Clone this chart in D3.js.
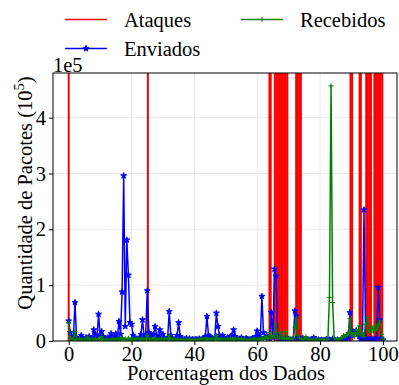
<!DOCTYPE html>
<html><head><meta charset="utf-8">
<script src="https://cdn.jsdelivr.net/npm/d3@7"></script>
</head><body style="margin:0"><svg id="c" width="399" height="385" font-family="Liberation Serif"></svg>
<script>
// ---- data (values in units of 1e5 packets) ----
const xTicks = [0, 20, 40, 60, 80, 100];
const yTicks = [0, 1, 2, 3, 4];
const attacks = [0, 25.2, 63.9, 64.3, 65.6, 66.1, 66.6, 67.1, 67.6, 68.1, 68.6, 69.1, 69.6,
  72.4, 72.9, 73.4, 73.9, 89.7, 90.2, 92.6, 93.0, 94.7, 95.2, 95.7, 96.2,
  97.3, 97.8, 98.3, 98.8, 99.3, 99.8];
const enviados = [
  0.36,0.15,0.05,0.08,0.69,0.06,0.03,0.05,0.10,0.04,0.02,0.06,0.04,0.08,0.03,0.05,0.20,0.12,0.06,0.48,
  0.10,0.17,0.08,0.05,0.03,0.06,0.04,0.13,0.05,0.08,0.13,0.06,0.35,0.12,0.88,2.96,0.26,1.81,1.18,0.33,
  0.30,0.10,0.05,0.04,0.02,0.06,0.12,0.38,0.08,0.10,0.90,0.15,0.08,0.10,0.12,0.26,0.10,0.06,0.20,0.08,
  0.12,0.05,0.03,0.06,0.53,0.10,0.05,0.02,0.04,0.10,0.33,0.08,0.04,0.02,0.03,0.05,0.02,0.04,0.02,0.03,
  0.02,0.03,0.02,0.04,0.02,0.03,0.05,0.08,0.44,0.10,0.08,0.04,0.02,0.06,0.50,0.26,0.10,0.05,0.10,0.04,
  0.03,0.06,0.04,0.08,0.10,0.20,0.08,0.04,0.02,0.04,0.06,0.03,0.02,0.05,0.03,0.02,0.03,0.05,0.02,0.08,
  0.18,0.10,0.06,0.80,0.15,0.06,0.10,0.05,0.08,0.51,0.06,1.29,1.16,0.10,0.04,0.02,0.03,0.02,0.04,0.02,
  0.03,0.02,0.02,0.04,0.54,0.45,0.06,0.03,0.02,0.05,0.02,0.02,0.01,0.02,0.01,0.02,0.06,0.02,0.01,0.02,
  0.01,0.02,0.01,0.01,0.03,0.01,0.02,0.01,0.04,0.01,0.01,0.02,0.01,0.01,0.02,0.01,0.03,0.02,0.05,0.51,
  0.10,0.17,0.15,0.18,0.12,0.08,0.05,0.03,2.35,0.05,0.02,0.03,0.02,0.04,0.02,0.03,0.05,0.96,0.38,0.05,0.02
];
const recebidos = [
  0.33,0.05,0.03,0.02,0.17,0.03,0.02,0.04,0.02,0.01,0.03,0.02,0.07,0.02,0.01,0.03,0.02,0.04,0.02,0.03,
  0.02,0.08,0.02,0.01,0.03,0.02,0.01,0.02,0.04,0.02,0.01,0.03,0.05,0.02,0.06,0.03,0.04,0.02,0.05,0.03,
  0.02,0.04,0.02,0.03,0.05,0.02,0.03,0.04,0.02,0.03,0.10,0.04,0.02,0.03,0.02,0.05,0.02,0.03,0.02,0.04,
  0.02,0.03,0.04,0.02,0.10,0.03,0.02,0.04,0.02,0.03,0.02,0.01,0.02,0.03,0.02,0.01,0.02,0.03,0.02,0.01,
  0.02,0.01,0.02,0.03,0.02,0.04,0.02,0.03,0.05,0.02,0.03,0.02,0.04,0.03,0.10,0.03,0.02,0.04,0.02,0.03,
  0.02,0.03,0.02,0.04,0.02,0.03,0.05,0.02,0.03,0.02,0.04,0.02,0.03,0.02,0.01,0.02,0.03,0.02,0.04,0.02,
  0.03,0.02,0.04,0.05,0.03,0.06,0.08,0.04,0.15,0.05,0.08,0.10,0.30,0.06,0.04,0.15,0.05,0.03,0.17,0.04,
  0.03,0.05,0.03,0.04,0.25,0.41,0.10,0.05,0.03,0.02,0.04,0.08,0.02,0.03,0.02,0.01,0.02,0.03,0.01,0.02,
  0.02,0.01,0.02,0.01,0.02,0.03,0.78,4.57,0.69,0.05,0.02,0.03,0.02,0.04,0.06,0.10,0.08,0.12,0.15,0.40,
  0.10,0.15,0.08,0.20,0.12,0.27,0.10,0.15,0.08,0.30,0.42,0.20,0.15,0.25,0.18,0.27,0.20,0.30,0.36,0.12,0.03
];
const labels = {x: "Porcentagem dos Dados", y: "Quantidade de Pacotes (10", ySup: "5", yEnd: ")", offset: "1e5"};
const legendNames = ["Ataques", "Recebidos", "Enviados"];

// ---- layout ----
const L = 53, R = 397, T = 73, B = 341;
const FS = 20.5;
const FONT = "Liberation Serif";
const svg = d3.select("#c");
const n = enviados.length;
const pct = i => i * 100 / (n - 1);   // position of each sample as percentage of the data
const x = d3.scaleLinear().domain([-5, 104.5]).range([L, R]);
const y = d3.scaleLinear().domain([0, 4.8]).range([B, T]);

svg.append("defs").append("clipPath").attr("id", "clip")
  .append("rect").attr("x", L).attr("y", T).attr("width", R - L).attr("height", B - T);

// grid
const grid = svg.append("g").attr("stroke", "#ebebeb").attr("stroke-width", 1);
xTicks.forEach(t => grid.append("line").attr("x1", x(t)).attr("x2", x(t)).attr("y1", T).attr("y2", B));
yTicks.forEach(t => grid.append("line").attr("x1", L).attr("x2", R).attr("y1", y(t)).attr("y2", y(t)));

const plot = svg.append("g").attr("clip-path", "url(#clip)");
// attacks
plot.selectAll("line.att").data(attacks).join("line")
  .attr("x1", d => x(d)).attr("x2", d => x(d)).attr("y1", T).attr("y2", B)
  .attr("stroke", "#ff0000").attr("stroke-width", 2);

const line = d3.line().x((d, i) => x(pct(i))).y(d => y(d));
const star = d3.symbol().type(d3.symbolStar).size(11);
const plusPath = "M-2.5,0H2.5M0,-2.5V2.5";
// enviados
plot.append("path").datum(enviados).attr("d", line)
  .attr("fill", "none").attr("stroke", "#0000ff").attr("stroke-width", 1.5).attr("stroke-linejoin", "round");
plot.selectAll("path.st").data(enviados).join("path").attr("class", "st")
  .attr("d", star).attr("transform", (d, i) => `translate(${x(pct(i))},${y(d)})`)
  .attr("fill", "#0000ff").attr("stroke", "#0000ff").attr("stroke-width", 1);
// recebidos
plot.append("path").datum(recebidos).attr("d", line)
  .attr("fill", "none").attr("stroke", "#008000").attr("stroke-width", 1.5).attr("stroke-linejoin", "round");
plot.selectAll("path.pl").data(recebidos).join("path").attr("class", "pl")
  .attr("d", plusPath).attr("transform", (d, i) => `translate(${x(pct(i))},${y(d)})`)
  .attr("stroke", "#008000").attr("stroke-width", 1);

// frame
svg.append("rect").attr("x", L).attr("y", T).attr("width", R - L).attr("height", B - T)
  .attr("fill", "none").attr("stroke", "#000").attr("stroke-width", 1);

// axes
const xa = svg.append("g").attr("transform", `translate(0,${B})`)
  .call(d3.axisBottom(x).tickValues(xTicks).tickSize(4).tickPadding(1).tickFormat(d3.format("d")));
const ya = svg.append("g").attr("transform", `translate(${L},0)`)
  .call(d3.axisLeft(y).tickValues(yTicks).tickSize(4).tickPadding(3).tickFormat(d3.format("d")));
[xa, ya].forEach(a => {
  a.attr("font-family", FONT).attr("font-size", FS);
  a.select(".domain").remove();
  a.selectAll("text").attr("font-family", FONT).attr("font-size", FS).attr("fill", "#000");
  a.selectAll("line").attr("stroke", "#000");
});

function txt(sel) { return sel.attr("font-size", FS).attr("font-family", FONT).attr("fill", "#000"); }
txt(svg.append("text").attr("x", L).attr("y", 72)).text(labels.offset);
txt(svg.append("text").attr("x", (L + R) / 2 + 1).attr("y", 380).attr("text-anchor", "middle")).text(labels.x);
const yl = txt(svg.append("text").attr("transform", `translate(32,${(T + B) / 2 - 14}) rotate(-90)`)
  .attr("text-anchor", "middle"));
yl.append("tspan").text(labels.y);
yl.append("tspan").attr("dy", -8).attr("font-size", 14.5).text(labels.ySup);
yl.append("tspan").attr("dy", 8).text(labels.yEnd);

// legend
const lg = svg.append("g");
function entry(lx, ly, name, color, marker) {
  lg.append("line").attr("x1", lx).attr("x2", lx + 42).attr("y1", ly).attr("y2", ly)
    .attr("stroke", color).attr("stroke-width", 1.5);
  if (marker === "star") lg.append("path").attr("d", star).attr("transform", `translate(${lx + 21},${ly})`)
    .attr("fill", color).attr("stroke", color).attr("stroke-width", 1);
  if (marker === "plus") lg.append("path").attr("d", plusPath)
    .attr("transform", `translate(${lx + 21},${ly})`).attr("stroke", color).attr("stroke-width", 1);
  txt(lg.append("text").attr("x", lx + 59).attr("y", ly + 7)).text(name);
}
entry(65, 19.5, legendNames[0], "#ff0000", null);
entry(241, 19.5, legendNames[1], "#008000", "plus");
entry(65, 48.5, legendNames[2], "#0000ff", "star");
</script></body></html>
